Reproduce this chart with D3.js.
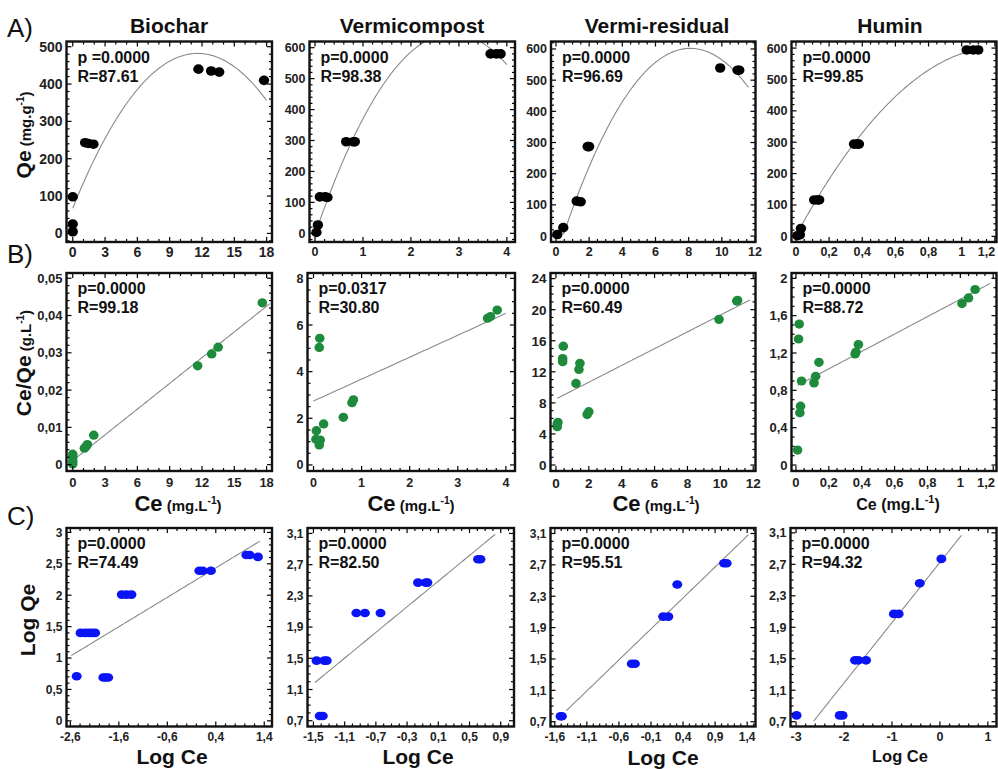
<!DOCTYPE html>
<html><head><meta charset="utf-8">
<script src="https://cdn.jsdelivr.net/npm/d3@7/dist/d3.min.js"></script>
<style>
body{margin:0;background:#fff}
svg{display:block}
text{font-family:"Liberation Sans",Arial,Helvetica,sans-serif}
</style>
</head><body>
<svg id="chart" width="998" height="769"></svg>
<script>
// ---------------- DATA ----------------
const materials = ["Biochar", "Vermicompost", "Vermi-residual", "Humin"];
const rowLetters = ["A)", "B)", "C)"];

const pTexts = [
  ["p =0.0000", "p=0.0000", "p=0.0000", "p=0.0000"],
  ["p=0.0000", "p=0.0317", "p=0.0000", "p=0.0000"],
  ["p=0.0000", "p=0.0000", "p=0.0000", "p=0.0000"]
];
const rTexts = [
  ["R=87.61", "R=98.38", "R=96.69", "R=99.85"],
  ["R=99.18", "R=30.80", "R=60.49", "R=88.72"],
  ["R=74.49", "R=82.50", "R=95.51", "R=94.32"]
];

// Row A : Qe vs Ce
const ceA_biochar = [0, 0, 0, 1.15, 1.45, 1.92, 11.67, 12.85, 13.6, 17.76];
const qeA_biochar = [98, 25, 4.5, 243, 241, 239, 440, 435, 432, 410];
const ceA_vermicompost = [0.03, 0.06, 0.10, 0.21, 0.26, 0.65, 0.80, 0.83, 3.66, 3.78, 3.87];
const qeA_vermicompost = [3, 27, 118, 118, 116, 296, 296, 296, 580, 580, 580];
const ceA_residual = [0.08, 0.44, 1.25, 1.49, 1.91, 2.0, 9.9, 10.95, 11.05];
const qeA_residual = [5, 27, 112, 110, 287, 287, 539, 532, 532];
const ceA_humin = [0.008, 0.024, 0.03, 0.11, 0.13, 0.14, 0.35, 0.37, 0.38, 1.03, 1.07, 1.1];
const qeA_humin = [2, 5, 25, 116, 116, 116, 294, 294, 294, 594, 594, 594];

// Row B : Ce/Qe vs Ce
const ceB_biochar = [0, 0, 0, 0, 1.08, 1.24, 1.36, 1.95, 11.6, 12.9, 13.5, 17.6];
const rB_biochar = [0.0002, 0.0009, 0.002, 0.0028, 0.0044, 0.0049, 0.0054, 0.0079, 0.0265, 0.0297, 0.0315, 0.0434];
const ceB_vermicompost = [0.05, 0.06, 0.12, 0.14, 0.12, 0.13, 0.21, 0.62, 0.8, 0.83, 3.62, 3.68, 3.82];
const rB_vermicompost = [1.1, 1.47, 0.86, 1.07, 5.04, 5.43, 1.76, 2.04, 2.67, 2.79, 6.29, 6.36, 6.64];
const ceB_residual = [0.08, 0.08, 0.12, 0.45, 0.41, 0.41, 1.22, 1.4, 1.46, 1.9, 2.0, 9.92, 11.0, 11.05];
const rB_residual = [4.94, 5.28, 5.5, 15.3, 13.3, 13.7, 10.5, 12.3, 13.1, 6.5, 6.87, 18.75, 21.1, 21.2];
const ceB_humin = [0.01, 0.016, 0.02, 0.024, 0.028, 0.034, 0.11, 0.12, 0.14, 0.36, 0.365, 0.38, 1.01, 1.05, 1.09];
const rB_humin = [0.16, 1.35, 1.51, 0.56, 0.63, 0.9, 0.88, 0.95, 1.1, 1.19, 1.21, 1.29, 1.73, 1.79, 1.88];

// Row C : Log Qe vs Log Ce
const lceC_biochar = [-2.47, -1.92, -1.87, -1.82, -2.39, -2.30, -2.23, -2.16, -2.09, -1.54, -1.44, -1.34, 0.06, 0.13, 0.30, 1.03, 1.10, 1.27];
const lqeC_biochar = [0.71, 0.69, 0.69, 0.69, 1.40, 1.40, 1.40, 1.40, 1.40, 2.01, 2.01, 2.01, 2.39, 2.39, 2.39, 2.64, 2.64, 2.61];
const lceC_vermicompost = [-1.46, -1.36, -1.33, -1.42, -1.38, -0.95, -0.84, -0.64, -0.16, -0.06, -0.04, 0.61, 0.64];
const lqeC_vermicompost = [1.47, 1.47, 1.47, 0.76, 0.76, 2.08, 2.08, 2.08, 2.47, 2.47, 2.47, 2.77, 2.77];
const lceC_residual = [-1.51, -1.49, -0.40, -0.35, 0.09, 0.17, 0.31, 1.04, 1.08];
const lqeC_residual = [0.77, 0.77, 1.44, 1.44, 2.04, 2.04, 2.45, 2.72, 2.72];
const lceC_humin = [-2.99, -2.09, -2.03, -1.77, -1.70, -1.54, -0.96, -0.86, -0.42, 0.03];
const lqeC_humin = [0.78, 0.78, 0.78, 1.48, 1.48, 1.48, 2.07, 2.07, 2.46, 2.77];

// fitted models
const quadFits = [[67.6, 71.46, -3.08], [-3.1, 452.3, -78.8], [-67.2, 165.24, -10.2], [2.4, 977, -397]];
const quadRanges = [[0, 18.0], [0.03, 4.0], [0.45, 11.6], [0.01, 1.1]];
const linFitsB = [[0.0011, 0.0023], [2.74, 0.94], [8.5, 1.08], [0.844, 0.932]];
const linRangesB = [[0, 18.3], [0, 4.0], [0.08, 11.8], [0.01, 1.18]];
const linFitsC = [[2.247, 0.468], [2.407, 0.822], [1.962, 0.79], [2.725, 0.766]];
const linRangesC = [[-2.58, 1.31], [-1.48, 0.83], [-1.42, 1.42], [-2.63, 0.45]];

// tick labels
const xTicksA = [
  ["0", "3", "6", "9", "12", "15", "18"],
  ["0", "1", "2", "3", "4"],
  ["0", "2", "4", "6", "8", "10", "12"],
  ["0", "0,2", "0,4", "0,6", "0,8", "1", "1,2"]
];
const yTicksA = [
  ["0", "100", "200", "300", "400", "500"],
  ["0", "100", "200", "300", "400", "500", "600"],
  ["0", "100", "200", "300", "400", "500", "600"],
  ["0", "100", "200", "300", "400", "500", "600"]
];
const xTicksB = xTicksA;
const yTicksB = [
  ["0", "0,01", "0,02", "0,03", "0,04", "0,05"],
  ["0", "2", "4", "6", "8"],
  ["0", "4", "8", "12", "16", "20", "24"],
  ["0", "0,4", "0,8", "1,2", "1,6", "2"]
];
const xTicksC = [
  ["-2,6", "-1,6", "-0,6", "0,4", "1,4"],
  ["-1,5", "-1,1", "-0,7", "-0,3", "0,1", "0,5", "0,9"],
  ["-1,6", "-1,1", "-0,6", "-0,1", "0,4", "0,9", "1,4"],
  ["-3", "-2", "-1", "0", "1"]
];
const yTicksC = [
  ["0", "0,5", "1", "1,5", "2", "2,5", "3"],
  ["0,7", "1,1", "1,5", "1,9", "2,3", "2,7", "3,1"],
  ["0,7", "1,1", "1,5", "1,9", "2,3", "2,7", "3,1"],
  ["0,7", "1,1", "1,5", "1,9", "2,3", "2,7", "3,1"]
];

// ---------------- LAYOUT (pixels / domains) ----------------
const rowBox = [[41.5, 242], [273, 471], [528, 726.5]];
const colBox = [
  [[66.5, 272], [309.5, 515], [551, 755.5], [791.5, 996.5]],
  [[66.5, 272], [307.5, 515], [550.5, 755.5], [791.5, 996.5]],
  [[66.5, 272], [307.5, 514], [550.5, 755.5], [790.5, 996.5]]
];
const xDomains = [
  [[-0.58, 18.5], [-0.115, 4.17], [-0.3, 12.03], [-0.027, 1.21]],
  [[-0.58, 18.5], [-0.125, 4.19], [-0.33, 12.14], [-0.027, 1.22]],
  [[-2.68, 1.56], [-1.576, 1.07], [-1.667, 1.53], [-3.116, 1.18]]
];
const yDomains = [
  [[-23, 514], [-28, 620], [-19, 624], [-18, 621]],
  [[-0.0017, 0.0514], [-0.26, 8.23], [-0.77, 24.72], [-0.064, 2.057]],
  [[-0.09, 3.07], [0.626, 3.17], [0.639, 3.17], [0.639, 3.162]]
];
const xMinorDiv = [[3, 5, 4, 4], [3, 5, 4, 4], [5, 4, 5, 5]];
const yMinorDiv = [[5, 5, 5, 5], [5, 4, 4, 4], [5, 4, 4, 4]];
const tickFont = [[14, 12.5, 12.5, 12.5], [13, 12.5, 13.5, 13], [12, 12, 12, 12.5]];
const xLabelGap = [1, 3, 2];
const colors = ["#000000", "#1e8a3c", "#0a14f5"];

const num = s => +s.replace(",", ".");

const rowsData = [
  [[ceA_biochar, qeA_biochar], [ceA_vermicompost, qeA_vermicompost], [ceA_residual, qeA_residual], [ceA_humin, qeA_humin]],
  [[ceB_biochar, rB_biochar], [ceB_vermicompost, rB_vermicompost], [ceB_residual, rB_residual], [ceB_humin, rB_humin]],
  [[lceC_biochar, lqeC_biochar], [lceC_vermicompost, lqeC_vermicompost], [lceC_residual, lqeC_residual], [lceC_humin, lqeC_humin]]
];
const xTickSets = [xTicksA, xTicksB, xTicksC];
const yTickSets = [yTicksA, yTicksB, yTicksC];

const svg = d3.select("#chart");
svg.append("rect").attr("width", 998).attr("height", 769).attr("fill", "#fff");

for (let r = 0; r < 3; r++) {
  for (let c = 0; c < 4; c++) {
    const [x0, x1] = colBox[r][c];
    const [y0, y1] = rowBox[r];
    const xs = d3.scaleLinear().domain(xDomains[r][c]).range([x0, x1]);
    const ys = d3.scaleLinear().domain(yDomains[r][c]).range([y1, y0]);
    const g = svg.append("g");
    const clipId = `clip${r}${c}`;
    svg.append("clipPath").attr("id", clipId).append("rect")
      .attr("x", x0).attr("y", y0).attr("width", x1 - x0).attr("height", y1 - y0);

    // fitted curve / line
    let fitFn, range;
    if (r === 0) { const q = quadFits[c]; fitFn = x => q[0] + q[1] * x + q[2] * x * x; range = quadRanges[c]; }
    else if (r === 1) { const l = linFitsB[c]; fitFn = x => l[0] + l[1] * x; range = linRangesB[c]; }
    else { const l = linFitsC[c]; fitFn = x => l[0] + l[1] * x; range = linRangesC[c]; }
    const n = 120;
    const pts = d3.range(n + 1).map(i => range[0] + (range[1] - range[0]) * i / n);
    g.append("path")
      .attr("clip-path", `url(#${clipId})`)
      .attr("d", d3.line().x(d => xs(d)).y(d => ys(fitFn(d)))(pts))
      .attr("fill", "none").attr("stroke", "#8a8a8a").attr("stroke-width", 1.1);

    // points
    const [dx, dy] = rowsData[r][c];
    g.append("g").attr("clip-path", `url(#${clipId})`).selectAll("ellipse")
      .data(dx.map((v, i) => [v, dy[i]]))
      .join("ellipse")
      .attr("cx", d => xs(d[0])).attr("cy", d => ys(d[1]))
      .attr("rx", r === 2 ? 5 : (r === 0 ? 5.2 : 4.8))
      .attr("ry", r === 2 ? 4.3 : (r === 0 ? 4.8 : 4.6))
      .attr("fill", colors[r]);

    // ticks (inward on all four sides)
    const xt = xTickSets[r][c].map(num);
    const yt = yTickSets[r][c].map(num);
    const xStep = xt[1] - xt[0], yStep = yt[1] - yt[0];
    const xMinor = [], yMinor = [];
    const xm = xStep / xMinorDiv[r][c], ym = yStep / yMinorDiv[r][c];
    for (let k = -100; k <= 200; k++) {
      const vv = +(xt[0] + k * xm).toFixed(6);
      if (vv >= xDomains[r][c][0] && vv <= xDomains[r][c][1]) xMinor.push(vv);
      const ww = +(yt[0] + k * ym).toFixed(6);
      if (ww >= yDomains[r][c][0] && ww <= yDomains[r][c][1]) yMinor.push(ww);
    }
    const tk = g.append("g").attr("stroke", "#000").attr("stroke-width", 1.2);
    const isMajor = (v, arr) => arr.some(a => Math.abs(a - v) < 1e-6);
    xMinor.forEach(v => {
      const L = isMajor(v, xt) ? 5 : 3;
      tk.append("line").attr("x1", xs(v)).attr("x2", xs(v)).attr("y1", y1).attr("y2", y1 - L);
      tk.append("line").attr("x1", xs(v)).attr("x2", xs(v)).attr("y1", y0).attr("y2", y0 + L);
    });
    yMinor.forEach(v => {
      const L = isMajor(v, yt) ? 5 : 3;
      tk.append("line").attr("y1", ys(v)).attr("y2", ys(v)).attr("x1", x0).attr("x2", x0 + L);
      tk.append("line").attr("y1", ys(v)).attr("y2", ys(v)).attr("x1", x1).attr("x2", x1 - L);
    });

    // tick labels
    const fs = tickFont[r][c];
    g.append("g").selectAll("text").data(xTickSets[r][c]).join("text")
      .attr("x", s => Math.min(xs(num(s)), 997 - s.length * fs * 0.28))
      .attr("y", y1 + fs + xLabelGap[r])
      .attr("text-anchor", "middle").attr("font-size", fs).attr("font-weight", "bold")
      .attr("fill", "#222").text(s => s);
    g.append("g").selectAll("text").data(yTickSets[r][c]).join("text")
      .attr("x", x0 - 4).attr("y", s => ys(num(s))).attr("dy", "0.36em")
      .attr("text-anchor", "end").attr("font-size", fs).attr("font-weight", "bold")
      .attr("fill", "#222").text(s => s);

    // frame
    g.append("rect").attr("x", x0).attr("y", y0).attr("width", x1 - x0).attr("height", y1 - y0)
      .attr("fill", "none").attr("stroke", "#111").attr("stroke-width", 2.4);

    // annotations
    g.append("text").attr("x", x0 + 11).attr("y", y0 + 21)
      .attr("font-size", 16).attr("font-weight", "bold").attr("fill", "#111").text(pTexts[r][c]);
    g.append("text").attr("x", x0 + 11).attr("y", y0 + 40)
      .attr("font-size", 16).attr("font-weight", "bold").attr("fill", "#111").text(rTexts[r][c]);
  }
}

// titles
const titleX = [169, 412, 657, 890];
materials.forEach((m, i) => {
  svg.append("text").attr("x", titleX[i]).attr("y", 33).attr("text-anchor", "middle")
    .attr("font-size", 21).attr("font-weight", "bold").attr("fill", "#111").text(m);
});

// row letters
const letterY = [37, 263, 525];
rowLetters.forEach((l, i) => {
  svg.append("text").attr("x", 7).attr("y", letterY[i]).attr("font-size", 26)
    .attr("fill", "#111").text(l);
});

// y-axis labels (rotated)
function yLabel(cx, cy, main, unit, sup) {
  const t = svg.append("text").attr("transform", `translate(${cx},${cy}) rotate(-90)`)
    .attr("text-anchor", "middle").attr("font-weight", "bold").attr("fill", "#111");
  t.append("tspan").attr("font-size", 21).text(main);
  if (unit) {
    t.append("tspan").attr("font-size", 15).text(" (" + unit);
    t.append("tspan").attr("font-size", 10).attr("dy", -7).text(sup);
    t.append("tspan").attr("font-size", 15).attr("dy", 7).text(")");
  }
}
yLabel(31, 135, "Qe", "mg.g", "-1");
yLabel(31, 363, "Ce/Qe", "g.L", "-1");
yLabel(35, 620, "Log Qe", null, null);

// x-axis labels row B
function xLabel(cx, cy, mainSize, unitSize) {
  const t = svg.append("text").attr("x", cx).attr("y", cy).attr("text-anchor", "middle")
    .attr("font-weight", "bold").attr("fill", "#111");
  t.append("tspan").attr("font-size", mainSize).text("Ce");
  t.append("tspan").attr("font-size", unitSize).text(" (mg.L");
  t.append("tspan").attr("font-size", unitSize * 0.68).attr("dy", -unitSize * 0.45).text("-1");
  t.append("tspan").attr("font-size", unitSize).attr("dy", unitSize * 0.45).text(")");
}
xLabel(178, 511, 22, 15);
xLabel(411, 511, 22, 15);
xLabel(656, 511, 22, 15);
xLabel(898, 510, 16, 16);

// x-axis labels row C
const logCeX = [172, 418, 663, 900];
const logCeSize = [21, 21, 21, 16.5];
const logCeY = [764, 764, 765, 762];
logCeX.forEach((x, i) => {
  svg.append("text").attr("x", x).attr("y", logCeY[i]).attr("text-anchor", "middle")
    .attr("font-size", logCeSize[i]).attr("font-weight", "bold").attr("fill", "#111").text("Log Ce");
});
</script>
</body></html>
